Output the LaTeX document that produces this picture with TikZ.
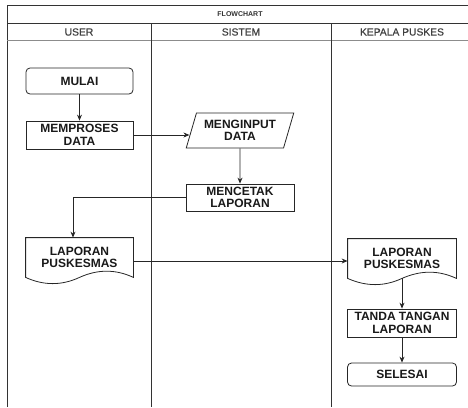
\documentclass[tikz,border=0pt]{standalone}
\usepackage{fontspec}
\setmainfont{Liberation Sans}
\newfontfamily\hdrfont{Liberation Sans}[FakeBold=0.6]
\usetikzlibrary{arrows.meta,shapes.geometric,calc}
\newcommand\drawdoc[1]{%
  \draw[docline] (#1.north west) -- (#1.north east) -- (#1.south east)
    .. controls ($(#1.south east)+(-17.83,-8.28)$) and ($(#1.south east)+(-35.67,-8.28)$) .. (#1.south)
    .. controls ($(#1.south)+(-17.83,8.28)$) and ($(#1.south)+(-35.67,8.28)$) .. (#1.south west) -- cycle;}
\begin{document}
\begin{tikzpicture}[x=1pt,y=-1pt,
  box/.style={draw=black!85, line width=0.8pt, fill=white, align=center,
    font=\fontsize{12}{12.5}\selectfont\bfseries, text=black!90, inner sep=0pt},
  proc/.style={box, rectangle, minimum width=107pt, minimum height=28pt},
  term/.style={proc, rounded corners=4pt},
  io/.style={box, trapezium, trapezium left angle=68, trapezium right angle=112,
    trapezium stretches=true, minimum width=108pt, minimum height=35pt},
  doc/.style={box, draw=none, fill=none, rectangle, minimum width=107pt, minimum height=39pt},
  docline/.style={line width=0.8pt, draw=black!85},
  lane/.style={line width=1pt, draw=black!80},
  flow/.style={line width=0.8pt, draw=black!85, -{Stealth[length=6pt,width=5pt]}},
  hdr/.style={font=\hdrfont\fontsize{10.3}{12}\selectfont, text=black!75}
]
\useasboundingbox (0,0) rectangle (468,407);
% pool and lanes
\draw[lane] (7,407) -- (7,5) -- (468,5);
\draw[lane] (7,23) -- (468,23);
\draw[black!45, line width=0.7pt] (7,40) -- (468,40);
\draw[lane] (151,23) -- (151,407);
\draw[lane] (331,23) -- (331,407);
\node[font=\fontsize{7}{8}\selectfont\bfseries, text=black!80] (title) at (240,14) {FLOWCHART};
\node[hdr] (huser) at (79,32) {USER};
\node[hdr] (hsis) at (241,32) {SISTEM};
\node[hdr] (hkep) at (402,32) {KEPALA PUSKES};
% nodes
\node[term, minimum height=26pt] (mulai) at (79.5,81) {MULAI};
\node[proc] (proses) at (79.5,135) {MEMPROSES\\DATA};
\node[io] (input) at (240,130.5) {MENGINPUT\\DATA};
\node[proc, minimum width=108pt, minimum height=27pt] (cetak) at (240,197.5) {MENCETAK\\LAPORAN};
\node[doc] (lap1) at (79.5,257.5) {LAPORAN\\PUSKESMAS};
\node[doc, minimum width=108pt] (lap2) at (402,258.5) {LAPORAN\\PUSKESMAS};
\node[proc, minimum width=109pt] (tanda) at (402,323) {TANDA TANGAN\\LAPORAN};
\node[term, minimum width=109pt, minimum height=23pt] (selesai) at (402,374.5) {SELESAI};
\drawdoc{lap1}
\drawdoc{lap2}
% connectors
\draw[flow] (mulai) -- (proses);
\draw[flow] (proses.east) -- ([xshift=-1.5pt]proses.east -| input.west);
\draw[flow] (input) -- (cetak);
\draw[flow] (cetak.west) -| ([xshift=-6.5pt]lap1.north);
\draw[flow] ([yshift=-3.5pt]lap1.east) -- ([yshift=-3.5pt]lap1.east -| lap2.west);
\draw[flow] (lap2.south) -- (tanda);
\draw[flow] (tanda) -- (selesai);
\end{tikzpicture}
\end{document}
